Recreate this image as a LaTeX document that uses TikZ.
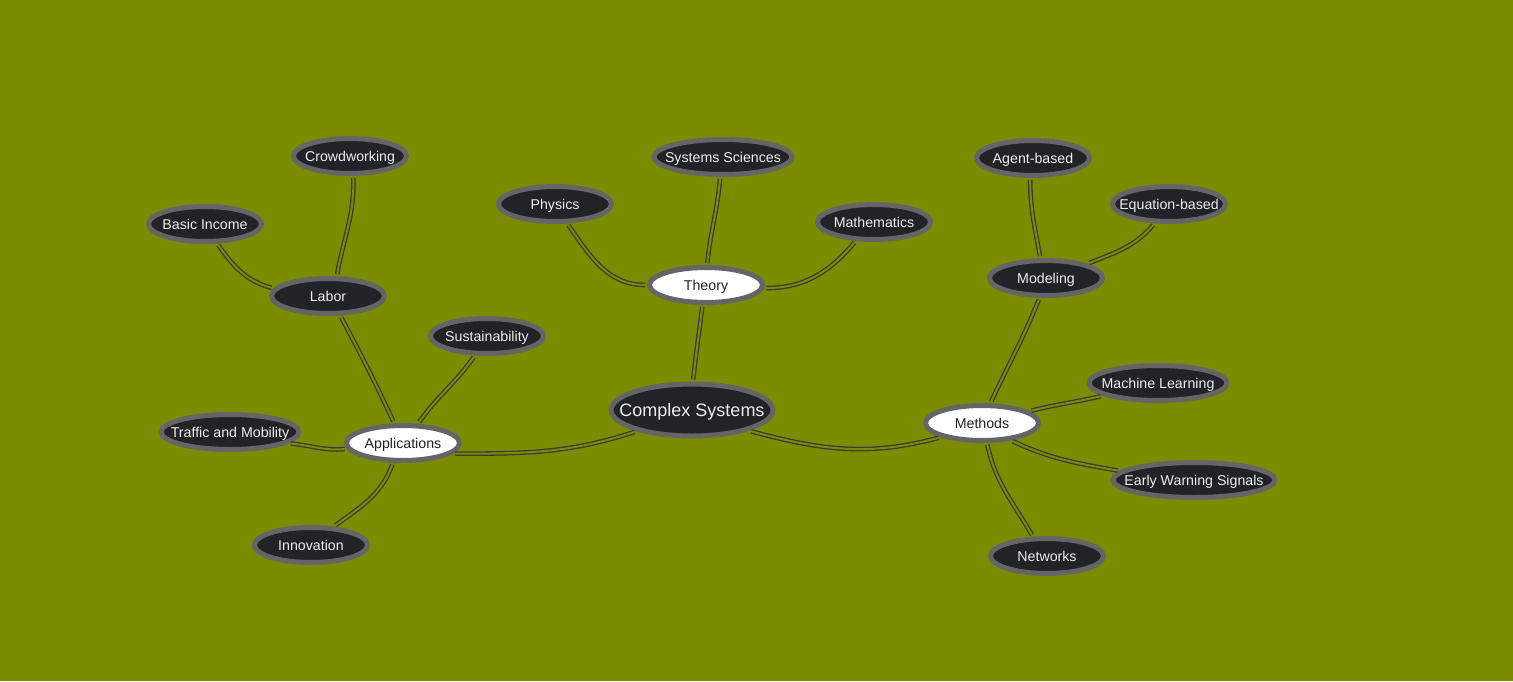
\documentclass[tikz,border=0pt]{standalone}
\usepackage{fontspec}
\setmainfont{Liberation Sans}
\usepackage{tikz}
\usetikzlibrary{shapes}

\definecolor{mapbg}{RGB}{123,140,0}
\definecolor{nodedark}{RGB}{33,35,40}
\definecolor{ringgray}{RGB}{101,101,101}
\definecolor{linkgray}{RGB}{58,58,58}
\definecolor{hubtext}{RGB}{34,34,34}

\begin{document}
\begin{tikzpicture}[x=1pt,y=1pt,
	topic/.style={ellipse, draw=ringgray, line width=5pt, fill=nodedark, text=white!93!black,
		minimum width=113pt, minimum height=35pt, inner xsep=-20pt, inner ysep=0pt,
		text height=10.2pt, text depth=0pt, font=\fontsize{14.2}{16}\selectfont},
	hub/.style={topic, fill=white, text=hubtext},
	root/.style={topic, minimum width=162pt, minimum height=52pt, text height=12.9pt,
		font=\fontsize{18}{20}\selectfont},
	wide/.style={minimum width=138pt},
	wider/.style={minimum width=162pt},
	link/.style={draw=linkgray, line width=1.3pt, double=mapbg, double distance=2pt,
		shorten <=2pt, shorten >=2pt}
]
\fill[mapbg] (0,0) rectangle (1513,-681);

% centre and main branches
\node[root] (cs) at (692,-410) {Complex Systems};
\node[hub] (theory) at (706,-285) {Theory};
\node[hub] (app) at (403,-443) {Applications};
\node[hub] (methods) at (982,-423) {Methods};

% theory
\node[topic] (physics) at (555,-204) {Physics};
\node[topic, wide] (sysci) at (723,-157) {Systems Sciences};
\node[topic] (math) at (874,-222) {Mathematics};

% applications
\node[topic] (labor) at (328,-296) {Labor};
\node[topic] (basic) at (205,-224) {Basic Income};
\node[topic] (crowd) at (350,-156) {Crowdworking};
\node[topic] (sust) at (487,-336) {Sustainability};
\node[topic, wide] (traffic) at (230,-432) {Traffic and Mobility};
\node[topic] (innov) at (311,-545) {Innovation};

% methods
\node[topic] (model) at (1046,-278) {Modeling};
\node[topic] (agent) at (1033,-158) {Agent-based};
\node[topic] (eqb) at (1169,-204) {Equation-based};
\node[topic, wide] (ml) at (1158,-383) {Machine Learning};
\node[topic, wider] (ews) at (1194,-480) {Early Warning Signals};
\node[topic] (net) at (1047,-556) {Networks};

% links
\draw[link] (cs.88) to[out=84,in=-97] (theory.-100);
\draw[link] (cs.201) to[out=198,in=0] (app.-12);
\draw[link] (cs.-20) to[out=-15,in=195] (methods.199);

\draw[link] (theory.west) to[out=180,in=-55] (physics.-58);
\draw[link] (theory.87) to[out=84,in=-95] (sysci.-98);
\draw[link] (theory.-3) to[out=0,in=230] (math.226);

\draw[link] (app.114) to[out=115,in=-62] (labor.-58);
\draw[link] (app.52) to[out=55,in=235] (sust.238);
\draw[link] (app.186) to[out=185,in=-5] (traffic.-11);
\draw[link] (app.-117) to[out=-110,in=36] (innov.39);

\draw[link] (labor.172) to[out=165,in=-55] (basic.-58);
\draw[link] (labor.66) to[out=80,in=-88] (crowd.-81);

\draw[link] (methods.67) to[out=65,in=-112] (model.-108);
\draw[link] (methods.14) to[out=14,in=193] (ml.193);
\draw[link] (methods.-31) to[out=-25,in=170] (ews.173);
\draw[link] (methods.-76) to[out=-78,in=120] (net.126);

\draw[link] (model.106) to[out=100,in=-90] (agent.-98);
\draw[link] (model.19) to[out=22,in=230] (eqb.233);
\end{tikzpicture}
\end{document}
